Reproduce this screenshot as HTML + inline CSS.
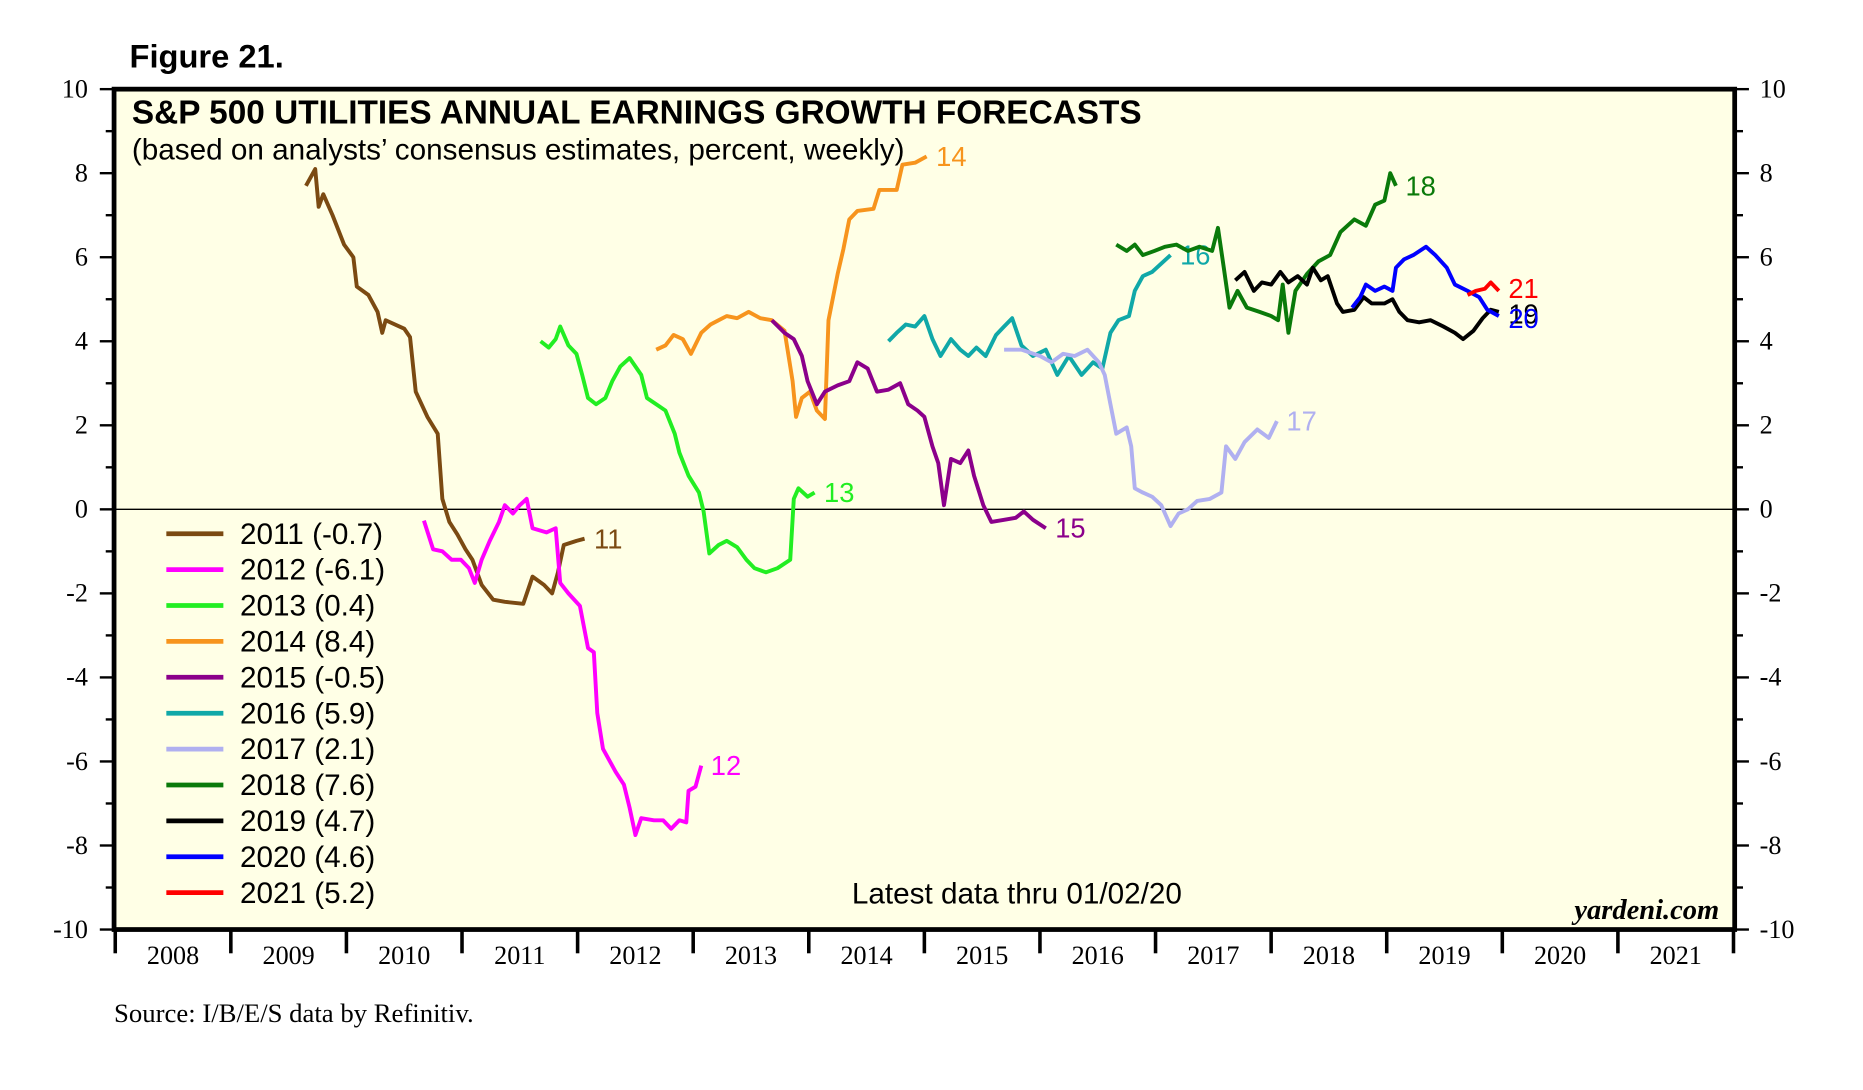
<!DOCTYPE html>
<html><head><meta charset="utf-8"><style>
html,body{margin:0;padding:0;background:#fff}
svg{display:block}
</style></head><body>
<svg id="chart" width="1863" height="1090" viewBox="0 0 1568 917" preserveAspectRatio="none" xmlns="http://www.w3.org/2000/svg" font-family="'Liberation Sans', sans-serif">
<rect x="0" y="0" width="1568" height="917" fill="#fff"/>
<text x="109" y="57" font-size="27.5" font-weight="bold">Figure 21.</text>
<rect x="96" y="75" width="1364" height="707" fill="#ffffe6" stroke="#000" stroke-width="4"/>
<g id="axes"></g>
<g id="series"></g>
<text x="111" y="104" font-size="28.1" font-weight="bold">S&amp;P 500 UTILITIES ANNUAL EARNINGS GROWTH FORECASTS</text>
<text x="111" y="134" font-size="25">(based on analysts’ consensus estimates, percent, weekly)</text>
<text x="717" y="760" font-size="25">Latest data thru 01/02/20</text>
<text x="1447" y="773" font-size="24" font-family="'Liberation Serif', serif" font-style="italic" font-weight="bold" text-anchor="end">yardeni.com</text>
<text x="96" y="860" font-size="22.5" font-family="'Liberation Serif', serif">Source: I/B/E/S data by Refinitiv.</text>
<g id="legend"></g>
</svg>
<script>
const yearsList=[2008,2009,2010,2011,2012,2013,2014,2015,2016,2017,2018,2019,2020,2021];
const yTicks=[10,8,6,4,2,0,-2,-4,-6,-8,-10];
const seriesNames=["2011","2012","2013","2014","2015","2016","2017","2018","2019","2020","2021"];
const seriesColors=["#7b4a12","#ff00ff","#22ee22","#f7941d","#8b008b","#10a8a8","#b0b0f0","#0a7a0a","#000000","#0000ff","#ff0000"];
const legendValues=["-0.7","-6.1","0.4","8.4","-0.5","5.9","2.1","7.6","4.7","4.6","5.2"];
const endLabels=["11","12","13","14","15","16","17","18","19","20","21"];
const d2011=[[9.65,7.7],[9.73,8.1],[9.76,7.2],[9.80,7.5],[9.88,7.0],[9.98,6.3],[10.06,6.0],[10.09,5.3],[10.19,5.1],[10.27,4.7],[10.31,4.2],[10.34,4.5],[10.50,4.3],[10.55,4.1],[10.60,2.8],[10.70,2.2],[10.79,1.8],[10.83,0.25],[10.89,-0.3],[10.96,-0.6],[11.03,-0.95],[11.09,-1.2],[11.17,-1.8],[11.27,-2.15],[11.37,-2.2],[11.53,-2.25],[11.61,-1.6],[11.71,-1.8],[11.78,-2.0],[11.83,-1.5],[11.88,-0.85],[11.99,-0.75],[12.06,-0.7]];
const d2012=[[10.67,-0.27],[10.75,-0.95],[10.83,-1.0],[10.91,-1.2],[10.99,-1.2],[11.06,-1.4],[11.11,-1.75],[11.17,-1.2],[11.24,-0.75],[11.32,-0.3],[11.37,0.1],[11.44,-0.1],[11.50,0.1],[11.56,0.25],[11.61,-0.45],[11.73,-0.55],[11.81,-0.45],[11.85,-1.75],[11.92,-2.0],[12.02,-2.3],[12.09,-3.3],[12.14,-3.4],[12.17,-4.85],[12.22,-5.7],[12.33,-6.25],[12.40,-6.55],[12.45,-7.1],[12.50,-7.75],[12.55,-7.35],[12.66,-7.4],[12.74,-7.4],[12.81,-7.6],[12.88,-7.4],[12.94,-7.45],[12.96,-6.7],[13.02,-6.6],[13.07,-6.1]];
const d2013=[[11.68,4.0],[11.75,3.85],[11.81,4.05],[11.85,4.35],[11.92,3.9],[11.99,3.7],[12.04,3.2],[12.09,2.65],[12.16,2.5],[12.24,2.65],[12.30,3.05],[12.37,3.4],[12.45,3.6],[12.55,3.2],[12.60,2.65],[12.68,2.5],[12.76,2.35],[12.84,1.8],[12.88,1.35],[12.96,0.8],[13.05,0.4],[13.09,-0.05],[13.14,-1.05],[13.22,-0.85],[13.29,-0.75],[13.38,-0.9],[13.46,-1.2],[13.53,-1.4],[13.63,-1.5],[13.73,-1.4],[13.84,-1.2],[13.87,0.25],[13.91,0.5],[13.99,0.3],[14.05,0.4]];
const d2014=[[12.68,3.8],[12.76,3.9],[12.83,4.15],[12.91,4.05],[12.98,3.7],[13.07,4.2],[13.15,4.4],[13.22,4.5],[13.29,4.6],[13.38,4.55],[13.48,4.7],[13.58,4.55],[13.68,4.5],[13.79,4.25],[13.86,3.05],[13.89,2.2],[13.94,2.65],[14.01,2.8],[14.07,2.35],[14.14,2.15],[14.17,4.5],[14.25,5.6],[14.30,6.2],[14.35,6.9],[14.42,7.1],[14.56,7.15],[14.61,7.6],[14.76,7.6],[14.81,8.2],[14.92,8.25],[15.02,8.4]];
const d2015=[[13.68,4.5],[13.79,4.2],[13.87,4.05],[13.94,3.65],[13.99,3.05],[14.07,2.5],[14.14,2.8],[14.25,2.95],[14.35,3.05],[14.42,3.5],[14.51,3.35],[14.59,2.8],[14.69,2.85],[14.79,3.0],[14.86,2.5],[14.94,2.35],[15.00,2.2],[15.07,1.5],[15.12,1.1],[15.17,0.1],[15.23,1.2],[15.31,1.1],[15.38,1.4],[15.43,0.8],[15.51,0.1],[15.58,-0.3],[15.69,-0.25],[15.79,-0.2],[15.86,-0.05],[15.94,-0.25],[16.05,-0.45]];
const d2016=[[14.69,4.0],[14.76,4.2],[14.84,4.4],[14.92,4.35],[15.00,4.6],[15.07,4.05],[15.14,3.65],[15.23,4.05],[15.31,3.8],[15.38,3.65],[15.45,3.85],[15.53,3.65],[15.62,4.15],[15.69,4.35],[15.76,4.55],[15.84,3.9],[15.94,3.65],[16.05,3.8],[16.15,3.2],[16.25,3.65],[16.36,3.2],[16.46,3.5],[16.54,3.35],[16.61,4.2],[16.68,4.5],[16.77,4.6],[16.82,5.2],[16.89,5.55],[16.97,5.65],[17.05,5.85],[17.13,6.05]];
const d2017=[[15.69,3.8],[15.84,3.8],[16.00,3.65],[16.10,3.5],[16.20,3.7],[16.30,3.65],[16.41,3.8],[16.51,3.5],[16.56,3.2],[16.61,2.5],[16.66,1.8],[16.75,1.95],[16.79,1.5],[16.82,0.5],[16.89,0.4],[16.97,0.3],[17.05,0.1],[17.13,-0.4],[17.20,-0.1],[17.28,0.0],[17.36,0.2],[17.47,0.25],[17.57,0.4],[17.61,1.5],[17.69,1.2],[17.77,1.6],[17.88,1.9],[17.98,1.7],[18.05,2.1]];
const d2018=[[16.66,6.3],[16.75,6.15],[16.82,6.3],[16.89,6.05],[16.99,6.15],[17.08,6.25],[17.18,6.3],[17.28,6.15],[17.38,6.25],[17.49,6.15],[17.54,6.7],[17.59,5.75],[17.64,4.8],[17.71,5.2],[17.79,4.8],[17.90,4.7],[18.00,4.6],[18.06,4.5],[18.10,5.35],[18.15,4.2],[18.21,5.2],[18.31,5.6],[18.41,5.9],[18.51,6.05],[18.60,6.6],[18.72,6.9],[18.82,6.75],[18.90,7.25],[18.98,7.35],[19.03,8.0],[19.08,7.7]];
const d2019=[[17.69,5.45],[17.77,5.65],[17.85,5.2],[17.92,5.4],[18.00,5.35],[18.08,5.65],[18.15,5.4],[18.23,5.55],[18.31,5.35],[18.36,5.75],[18.43,5.45],[18.49,5.55],[18.57,4.9],[18.62,4.7],[18.72,4.75],[18.80,5.05],[18.87,4.9],[18.98,4.9],[19.05,5.0],[19.11,4.7],[19.18,4.5],[19.28,4.45],[19.38,4.5],[19.49,4.35],[19.59,4.2],[19.66,4.05],[19.75,4.25],[19.83,4.55],[19.90,4.75],[19.97,4.7]];
const d2020=[[18.70,4.8],[18.77,5.05],[18.82,5.35],[18.90,5.2],[18.98,5.3],[19.05,5.2],[19.08,5.75],[19.15,5.95],[19.23,6.05],[19.34,6.25],[19.42,6.05],[19.52,5.75],[19.59,5.35],[19.70,5.2],[19.80,5.05],[19.87,4.75],[19.97,4.6]];
const d2021=[[19.70,5.1],[19.77,5.2],[19.85,5.25],[19.90,5.4],[19.97,5.2]];
const allSeries=[d2011,d2012,d2013,d2014,d2015,d2016,d2017,d2018,d2019,d2020,d2021];

const NS="http://www.w3.org/2000/svg";
const X0=97,X1=1459,Y0=75,Y1=782;
function xs(t){return X0+(t-8)/14*(X1-X0);}
function xYear(y){return X0+(y-2008)/14*(X1-X0);}
function ys(v){return Y1-(v+10)/20*(Y1-Y0);}
function mk(tag,attrs,parent){const e=document.createElementNS(NS,tag);for(const k in attrs)e.setAttribute(k,attrs[k]);parent.appendChild(e);return e;}

const axes=document.getElementById('axes');
for(let v=-10;v<=10;v++){
  const y=ys(v);const major=(v%2===0);
  const tl=mk('line',{x1:major?84:89,x2:96,y1:y,y2:y,stroke:'#000','stroke-width':2},axes);
  
  
  const tr=mk('line',{x1:1460,x2:major?1472:1467,y1:y,y2:y,stroke:'#000','stroke-width':2},axes);
  
  
}
yTicks.forEach(v=>{
  const y=ys(v);
  const a=mk('text',{x:74,y:y+7,'font-size':22,'font-family':"'Liberation Serif', serif",'text-anchor':'end'},axes);a.textContent=String(v);
  
  
  const b=mk('text',{x:1481,y:y+7,'font-size':22,'font-family':"'Liberation Serif', serif"},axes);b.textContent=String(v);
  
  
});
const zl=mk('line',{x1:96,x2:1460,y1:ys(0),y2:ys(0),stroke:'#000','stroke-width':1.2},axes);


for(let i=0;i<=yearsList.length;i++){
  const x=xYear(2008+i);
  const t=mk('line',{x1:x,x2:x,y1:782,y2:802,stroke:'#000','stroke-width':3},axes);
  
  
}
yearsList.forEach(yr=>{
  const l=mk('text',{x:xYear(yr+0.5),y:811,'font-size':22,'font-family':"'Liberation Serif', serif",'text-anchor':'middle'},axes);
  l.textContent=String(yr);
  
  
});

const sg=document.getElementById('series');
allSeries.forEach((d,i)=>{
  const pts=d.map(p=>xs(p[0]).toFixed(1)+','+ys(p[1]).toFixed(1)).join(' ');
  const pl=mk('polyline',{points:pts,fill:'none',stroke:seriesColors[i],'stroke-width':3.3,'stroke-linejoin':'round'},sg);
  
  
  const last=d[d.length-1];
  let dy=8;
  if(seriesNames[i]==='2019'||seriesNames[i]==='2020')dy=10;
  if(seriesNames[i]==='2021')dy=6;
  const lb=mk('text',{x:xs(last[0])+8,y:ys(last[1])+dy,'font-size':23,fill:seriesColors[i]},sg);
  lb.textContent=endLabels[i];
  
  
});

const lg=document.getElementById('legend');
seriesNames.forEach((n,i)=>{
  const y=449+i*30.2;
  const g=mk('g',{},lg);
  
  
  mk('line',{x1:140,x2:188,y1:y,y2:y,stroke:seriesColors[i],'stroke-width':4},g);
  const t=mk('text',{x:202,y:y+8.5,'font-size':25},g);
  t.textContent=n+' ('+legendValues[i]+')';
});
</script>
</body></html>
